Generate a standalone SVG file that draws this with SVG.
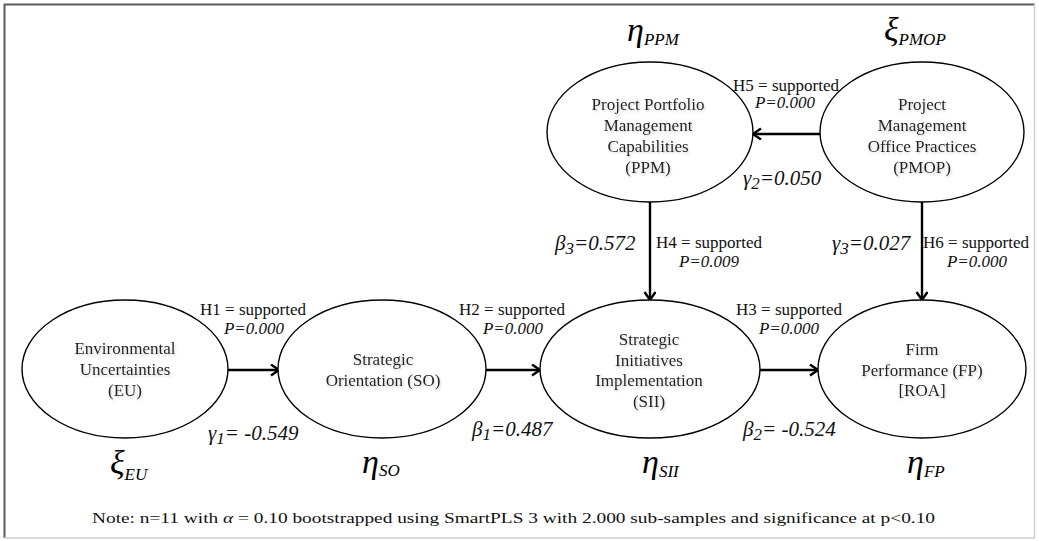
<svg xmlns="http://www.w3.org/2000/svg" width="1039" height="541" viewBox="0 0 1039 541">
<style>
  .node ellipse { fill: #ffffff; stroke: #000000; stroke-width: 1.4; }
  .nt { font-family: "Liberation Serif", "Times New Roman", serif; font-size: 17px; fill: #222; text-anchor: middle; filter: url(#shadow); }
  .lbl { font-family: "Liberation Serif", "Times New Roman", serif; font-size: 17px; fill: #111; text-anchor: middle; }
  .p { font-family: "Liberation Serif", "Times New Roman", serif; font-size: 17px; font-style: italic; fill: #111; text-anchor: middle; }
  .coef { font-family: "Liberation Serif", "Times New Roman", serif; font-size: 21px; font-style: italic; fill: #111; }
  .big { font-family: "Liberation Serif", "Times New Roman", serif; font-size: 34px; font-style: italic; fill: #000; }
  .sub { font-size: 17px; }
  .note { font-family: "Liberation Serif", "Times New Roman", serif; font-size: 15.5px; fill: #111; }
  .conn line { stroke: #000; stroke-width: 2.4; fill: none; }
</style>
<defs>
  <filter id="shadow" x="-10%" y="-30%" width="120%" height="160%">
    <feDropShadow dx="1" dy="1.5" stdDeviation="1" flood-color="#999" flood-opacity="0.45"/>
  </filter>
  <marker id="arr" markerUnits="userSpaceOnUse" markerWidth="14" markerHeight="14" refX="10" refY="6" orient="auto">
    <path d="M2,0.5 L10,6 L2,11.5" fill="none" stroke="#000" stroke-width="2.4"/>
  </marker>
</defs>
<rect width="1039" height="541" fill="#ffffff"/>
<g id="frame">
  <line x1="4" y1="4.5" x2="1035" y2="4.5" stroke="#5a5a5a" stroke-width="2"/>
  <line x1="4.5" y1="4" x2="4.5" y2="538" stroke="#5a5a5a" stroke-width="2"/>
  <line x1="4" y1="538" x2="1035" y2="538" stroke="#cfcfcf" stroke-width="1.5"/>
  <line x1="1034.5" y1="4" x2="1034.5" y2="538" stroke="#cfcfcf" stroke-width="1.5"/>
</g>
<g id="connectors" class="conn">
  <line x1="228" y1="370" x2="279" y2="370" marker-end="url(#arr)"/>
  <line x1="486" y1="370" x2="540" y2="370" marker-end="url(#arr)"/>
  <line x1="760" y1="370" x2="818" y2="370" marker-end="url(#arr)"/>
  <line x1="820" y1="134" x2="753" y2="134" marker-end="url(#arr)"/>
  <line x1="650" y1="202" x2="650" y2="300" marker-end="url(#arr)"/>
  <line x1="922" y1="202" x2="922" y2="300" marker-end="url(#arr)"/>
</g>
<g id="node-EU" class="node">
  <ellipse cx="125" cy="369" rx="103" ry="69"/>
  <text class="nt" x="125" y="354">Environmental</text>
  <text class="nt" x="125" y="375">Uncertainties</text>
  <text class="nt" x="125" y="396">(EU)</text>
</g>
<g id="node-SO" class="node">
  <ellipse cx="382" cy="369" rx="104" ry="69"/>
  <text class="nt" x="383" y="365">Strategic</text>
  <text class="nt" x="383" y="386">Orientation (SO)</text>
</g>
<g id="node-SII" class="node">
  <ellipse cx="650" cy="369" rx="110" ry="69"/>
  <text class="nt" x="649" y="345">Strategic</text>
  <text class="nt" x="649" y="366">Initiatives</text>
  <text class="nt" x="649" y="386">Implementation</text>
  <text class="nt" x="649" y="407">(SII)</text>
</g>
<g id="node-FP" class="node">
  <ellipse cx="922" cy="369" rx="104" ry="69"/>
  <text class="nt" x="922" y="355">Firm</text>
  <text class="nt" x="922" y="376">Performance (FP)</text>
  <text class="nt" x="922" y="396">[ROA]</text>
</g>
<g id="node-PPM" class="node">
  <ellipse cx="650" cy="132" rx="103" ry="70"/>
  <text class="nt" x="648" y="110">Project Portfolio</text>
  <text class="nt" x="648" y="131">Management</text>
  <text class="nt" x="648" y="152">Capabilities</text>
  <text class="nt" x="648" y="173">(PPM)</text>
</g>
<g id="node-PMOP" class="node">
  <ellipse cx="922" cy="132" rx="102" ry="70"/>
  <text class="nt" x="922" y="110">Project</text>
  <text class="nt" x="922" y="131">Management</text>
  <text class="nt" x="922" y="152">Office Practices</text>
  <text class="nt" x="922" y="173">(PMOP)</text>
</g>
<g id="edge-labels">
  <text class="lbl" x="253" y="315">H1 = supported</text>
  <text class="p" x="254" y="334">P=0.000</text>
  <text class="coef" x="208" y="440">γ<tspan class="sub" dy="4">1</tspan><tspan dy="-4">= -0.549</tspan></text>

  <text class="lbl" x="512" y="315">H2 = supported</text>
  <text class="p" x="513" y="334">P=0.000</text>
  <text class="coef" x="472" y="436">β<tspan class="sub" dy="4">1</tspan><tspan dy="-4">=0.487</tspan></text>

  <text class="lbl" x="789" y="315">H3 = supported</text>
  <text class="p" x="789" y="334">P=0.000</text>
  <text class="coef" x="743" y="436">β<tspan class="sub" dy="4">2</tspan><tspan dy="-4">= -0.524</tspan></text>

  <text class="lbl" x="709" y="248">H4 = supported</text>
  <text class="p" x="709" y="267">P=0.009</text>
  <text class="coef" x="555" y="250">β<tspan class="sub" dy="4">3</tspan><tspan dy="-4">=0.572</tspan></text>

  <text class="lbl" x="786" y="91">H5 = supported</text>
  <text class="p" x="785" y="108">P=0.000</text>
  <text class="coef" x="743" y="185">γ<tspan class="sub" dy="4">2</tspan><tspan dy="-4">=0.050</tspan></text>

  <text class="lbl" x="976" y="248">H6 = supported</text>
  <text class="p" x="977" y="267">P=0.000</text>
  <text class="coef" x="832" y="250">γ<tspan class="sub" dy="4">3</tspan><tspan dy="-4">=0.027</tspan></text>
</g>
<g id="construct-symbols">
  <text class="big" x="110" y="474">ξ<tspan class="sub" dy="6">EU</tspan></text>
  <text class="big" x="362" y="473">η<tspan class="sub" dy="3">SO</tspan></text>
  <text class="big" x="642" y="473">η<tspan class="sub" dy="4">SII</tspan></text>
  <text class="big" x="907" y="473">η<tspan class="sub" dy="4">FP</tspan></text>
  <text class="big" x="627" y="41">η<tspan class="sub" dy="4">PPM</tspan></text>
  <text class="big" x="884" y="41">ξ<tspan class="sub" dy="4">PMOP</tspan></text>
</g>
<text class="note" x="92" y="523" textLength="843" lengthAdjust="spacingAndGlyphs">Note: n=11 with <tspan font-style="italic">α</tspan> = 0.10 bootstrapped using SmartPLS 3 with 2.000 sub-samples and significance at p&lt;0.10</text>
</svg>
